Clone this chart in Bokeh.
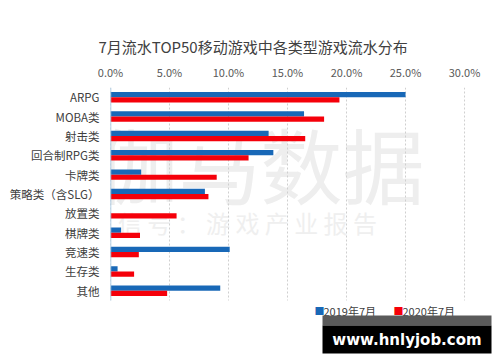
from bokeh.plotting import figure
from bokeh.models import (LinearAxis, Range1d, Label, FixedTicker, ColumnDataSource,
                          BoxAnnotation)
from bokeh.embed import file_html
from bokeh.resources import INLINE

title = "7月流水TOP50移动游戏中各类型游戏流水分布"
categories = ["ARPG", "MOBA类", "射击类", "回合制RPG类", "卡牌类", "策略类（含SLG）",
              "放置类", "棋牌类", "竞速类", "生存类", "其他"]
s2019 = [25.0, 16.4, 13.4, 13.8, 2.6, 8.0, 0.0, 0.9, 10.1, 0.6, 9.3]
s2020 = [19.4, 18.1, 16.5, 11.7, 9.0, 8.3, 5.6, 2.5, 2.4, 2.0, 4.8]
series_names = ["2019年7月", "2020年7月"]
x_ticks = [0, 5, 10, 15, 20, 25, 30]

BLUE = "#1868B7"
RED = "#F5000A"
FONT = "Noto Sans CJK SC"

n = len(categories)
W, H = 492, 354
p = figure(width=W, height=H, output_backend="svg", toolbar_location=None,
           x_range=Range1d(0, 32.37), y_range=Range1d(13.29, -0.5),
           min_border_left=110, min_border_right=0, min_border_top=87,
           min_border_bottom=0, x_axis_location=None, outline_line_color=None,
           title=title)
p.background_fill_color = "white"
p.border_fill_color = "white"
p.title.text_font = FONT
p.title.text_font_size = "15px"
p.title.text_font_style = "normal"
p.title.text_color = "#404040"
p.title.align = "left"
p.title.offset = -12
p.title.standoff = 8

# watermarks (frame-relative screen coords)
p.add_layout(Label(x=-14, y=192, x_units="screen", y_units="screen", text="伽马数据",
                   text_font=FONT, text_font_size="82px", text_color="#eeeeee",
                   text_baseline="middle", level="underlay"))
p.add_layout(Label(x=-22, y=132, x_units="screen", y_units="screen",
                   text="微 信 号 ： 游 戏 产 业 报 告",
                   text_font=FONT, text_font_size="24px", text_color="#efefef",
                   text_baseline="middle", level="underlay"))

# dashed vertical gridlines over the category band
p.segment(x0=x_ticks, x1=x_ticks, y0=[-0.5] * len(x_ticks), y1=[n - 0.5] * len(x_ticks),
          line_color="#cfcfcf", line_dash="2 2", line_width=1)

idx = list(range(n))
src = ColumnDataSource(dict(
    y1=[i - 0.135 for i in idx], y2=[i + 0.135 for i in idx],
    v1=s2019, v2=s2020))

p.hbar(y="y1", right="v1", left=0, height=0.27, source=src,
       fill_color=BLUE, line_color=None)
p.hbar(y="y2", right="v2", left=0, height=0.27, source=src,
       fill_color=RED, line_color=None)

# category axis line
p.segment(x0=[0], x1=[0], y0=[-0.5], y1=[n - 0.5], line_color="#9CC2E0", line_width=1.5)

# top axis
ax = LinearAxis(ticker=FixedTicker(ticks=x_ticks))
ax.major_label_overrides = {t: f"{t:.1f}%" for t in x_ticks}
ax.axis_line_color = None
ax.major_tick_line_color = None
ax.major_tick_out = 0
ax.minor_tick_line_color = None
ax.major_label_text_font = FONT
ax.major_label_text_font_size = "11px"
ax.major_label_text_color = "#595959"
ax.major_label_standoff = 8
p.add_layout(ax, "above")

p.xgrid.grid_line_color = None
p.ygrid.grid_line_color = None

ya = p.yaxis[0]
ya.ticker = FixedTicker(ticks=idx)
ya.major_label_overrides = {i: c for i, c in enumerate(categories)}
ya.axis_line_color = None
ya.major_tick_line_color = None
ya.major_tick_out = 0
ya.minor_tick_line_color = None
ya.major_label_text_font = FONT
ya.major_label_text_font_size = "11.5px"
ya.major_label_text_color = "#404040"
ya.major_label_standoff = 11

# legend (manual, frame-relative)
lx = [204, 283]
for i, (name, col) in enumerate(zip(series_names, [BLUE, RED])):
    p.add_layout(Label(x=lx[i], y=44, x_units="screen", y_units="screen",
                       text="■", text_font=FONT, text_font_size="10px",
                       text_color=col, text_baseline="middle"))
    p.add_layout(Label(x=lx[i] + 9, y=44, x_units="screen", y_units="screen",
                       text=name, text_font=FONT, text_font_size="11px",
                       text_color="#404040", text_baseline="middle"))

# site banner
p.add_layout(BoxAnnotation(left=212, right=381, bottom=29, top=39,
                           left_units="screen", right_units="screen",
                           bottom_units="screen", top_units="screen",
                           fill_color="#5a5a5a", fill_alpha=1, line_color=None))
p.add_layout(BoxAnnotation(left=212, right=381, bottom=1, top=29,
                           left_units="screen", right_units="screen",
                           bottom_units="screen", top_units="screen",
                           fill_color="black", fill_alpha=1, line_color=None))
p.add_layout(Label(x=296.5, y=15, x_units="screen", y_units="screen",
                   text="www.hnlyjob.com", text_font="DejaVu Sans",
                   text_font_size="15px", text_font_style="bold",
                   text_align="center", text_baseline="middle",
                   text_color="white"))

open("out.html", "w").write(file_html(p, INLINE))
